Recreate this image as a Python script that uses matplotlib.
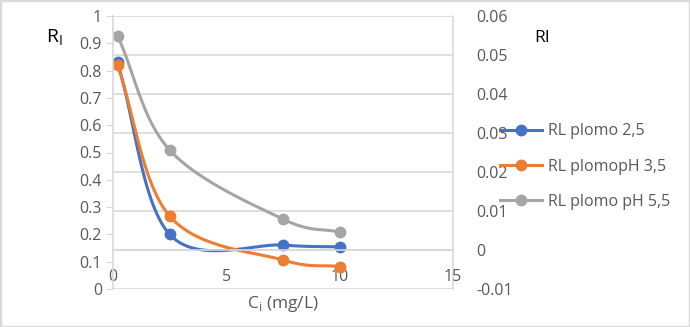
import numpy as np
import matplotlib
matplotlib.use("Agg")
import matplotlib.pyplot as plt
from matplotlib.patches import Rectangle

x_vals = [0.2, 2.5, 7.5, 10]
rl_ph25 = [0.83, 0.20, 0.161, 0.154]
rl_ph35 = [0.82, 0.267, 0.106, 0.082]
rl_ph55 = [0.928, 0.509, 0.256, 0.208]
series_names = ["RL plomo 2,5", "RL plomopH 3,5", "RL plomo pH 5,5"]
colors = ["#4472C4", "#ED7D31", "#A5A5A5"]
x_ticks = [0, 5, 10, 15]
left_ticks = [0, 0.1, 0.2, 0.3, 0.4, 0.5, 0.6, 0.7, 0.8, 0.9, 1]
left_labels = ["0", "0.1", "0.2", "0.3", "0.4", "0.5", "0.6", "0.7", "0.8", "0.9", "1"]
right_ticks = [-0.01, 0, 0.01, 0.02, 0.03, 0.04, 0.05, 0.06]
right_labels = ["-0.01", "0", "0.01", "0.02", "0.03", "0.04", "0.05", "0.06"]

plt.rcParams['font.family'] = ['Open Sans', 'DejaVu Sans']

def smooth(xs, ys, n=40):
    xs = np.asarray(xs, float); ys = np.asarray(ys, float)
    P = np.stack([xs, ys], axis=1)
    ext = np.vstack([P[0] - (P[1] - P[0]), P, P[-1] + (P[-1] - P[-2])])
    out = []
    for i in range(1, len(ext) - 2):
        p0, p1, p2, p3 = ext[i - 1], ext[i], ext[i + 1], ext[i + 2]
        c1 = p1 + (p2 - p0) / 6
        c2 = p2 - (p3 - p1) / 6
        t = np.linspace(0, 1, n)[:, None]
        b = (1 - t) ** 3 * p1 + 3 * (1 - t) ** 2 * t * c1 + 3 * (1 - t) * t ** 2 * c2 + t ** 3 * p2
        out.append(b if i == 1 else b[1:])
    out = np.vstack(out)
    return out[:, 0], out[:, 1]

W, H = 690, 327
fig = plt.figure(figsize=(W / 100, H / 100), dpi=100)
fig.patches.append(Rectangle((0, 0), 1, 1, transform=fig.transFigure, fill=False,
                             edgecolor="#D9D9D9", linewidth=2.5))

L, R, T, B = 113, 453, 16, 289
ax = fig.add_axes([L / W, 1 - B / H, (R - L) / W, (B - T) / H])
ax2 = ax.twinx()
ax.set_zorder(ax2.get_zorder() + 1)
ax.patch.set_visible(False)

ax.set_xlim(0, 15)
ax.set_ylim(0, 1)
ax2.set_ylim(-0.01, 0.06)

grid_c = "#D9D9D9"
fs = 11.5
ax2.set_yticks(right_ticks)
ax2.set_yticklabels(right_labels)
ax2.grid(axis='y', color=grid_c, linewidth=1.2)
ax2.tick_params(axis='y', length=0, pad=17, labelsize=fs, labelcolor="#595959")
for s in ["top", "left", "bottom"]:
    ax2.spines[s].set_visible(False)
ax2.spines["right"].set_color(grid_c)
ax2.spines["right"].set_linewidth(1.2)

ax.set_yticks(left_ticks)
ax.set_yticklabels(left_labels)
ax.tick_params(axis='y', length=5, color=grid_c, pad=3, labelsize=fs, labelcolor="#595959")
ax.set_xticks(x_ticks)
ax.set_xticklabels([str(v) for v in x_ticks])
ax.tick_params(axis='x', length=0, pad=14, labelsize=fs, labelcolor="#595959")
for s in ["top", "right"]:
    ax.spines[s].set_visible(False)
ax.spines["left"].set_color(grid_c)
ax.spines["left"].set_linewidth(1.2)
ax.spines["bottom"].set_position(('data', 1 / 7))
ax.spines["bottom"].set_color(grid_c)
ax.spines["bottom"].set_linewidth(1.2)

for ys, c, name in zip([rl_ph25, rl_ph35, rl_ph55], colors, series_names):
    sx, sy = smooth(x_vals, ys)
    ax.plot(sx, sy, color=c, linewidth=2.2, solid_capstyle='round')
    ax.plot(x_vals, ys, 'o', color=c, markersize=7.5)
    ax.plot([], [], '-o', color=c, linewidth=2.2, markersize=7.5, label=name)

fig.text(46 / W, 1 - 38 / H, "R$_\\mathregular{I}$", fontsize=14, ha='left', va='center')
fig.text(534 / W, 1 - 38 / H, "RI", fontsize=12.5, ha='left', va='center')
fig.text(283 / W, 1 - 304 / H, "C$_\\mathregular{i}$ (mg/L)", fontsize=12.5, color="#595959",
         ha='center', va='center')

leg = fig.legend(loc='upper left', bbox_to_anchor=(494 / W, 1 - 117 / H), frameon=False,
                 fontsize=fs, handlelength=2.6, labelspacing=1.2, handletextpad=0.4,
                 borderaxespad=0)
for t in leg.get_texts():
    t.set_color("#595959")

fig.savefig("out.png", dpi=100)
